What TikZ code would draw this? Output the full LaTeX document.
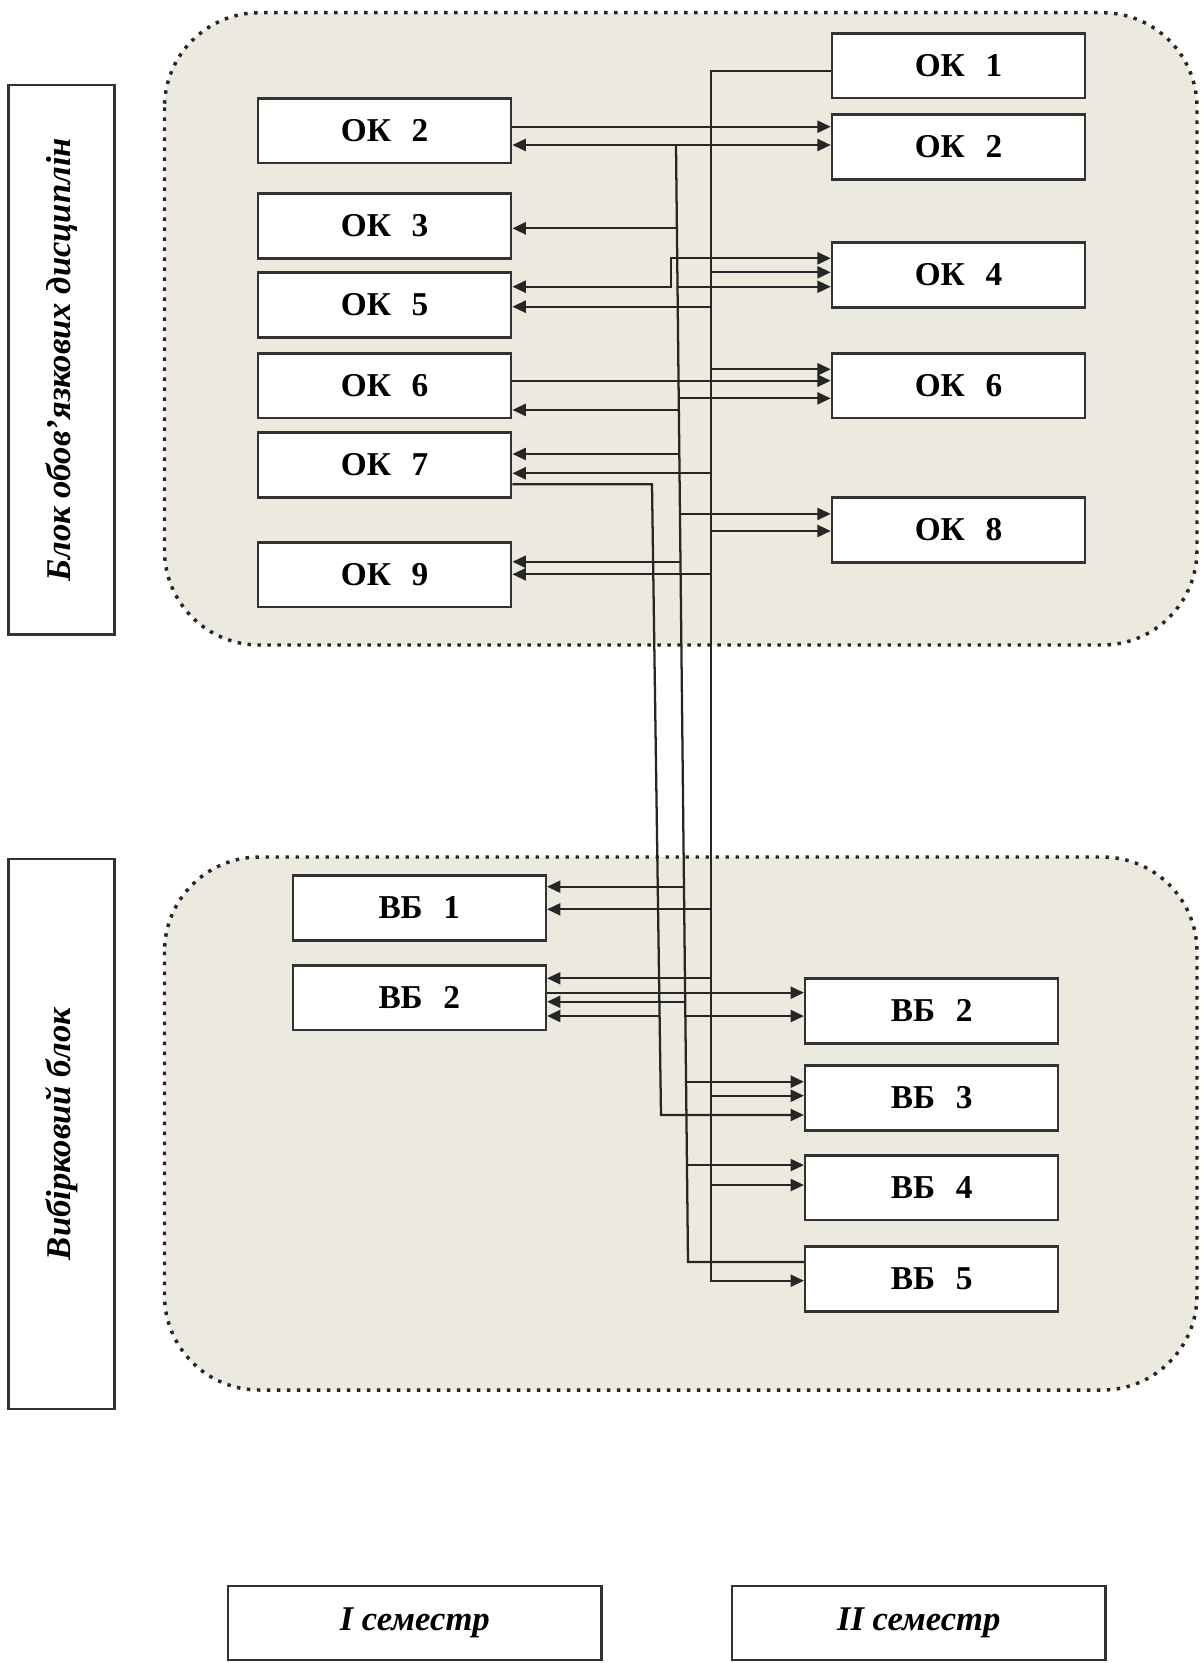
\documentclass[tikz,border=0pt]{standalone}
\usepackage{fontspec}
\setmainfont{Liberation Serif}
\usetikzlibrary{arrows.meta,calc}
\definecolor{blobfill}{HTML}{ECE9DF}
\newcommand\gap{\hspace{0.62em}}
\begin{document}
\begin{tikzpicture}[x=0.75pt,y=-0.75pt,
  box/.style={draw=black!80, line width=1.9pt, fill=white, minimum width=189.75pt,
    minimum height=48.4pt, inner sep=0pt, font=\bfseries\fontsize{25}{29}\selectfont},
  labbox/.style={draw=black!80, line width=1.9pt, fill=white, inner sep=0pt,
    font=\bfseries\itshape\fontsize{26}{30}\selectfont},
  blob/.style={draw=black!85, fill=blobfill, line width=2.6pt,
    dash pattern=on 2.6pt off 4.9pt, rounded corners=71pt},
  line/.style={draw=black!85, line width=1.7pt},
  arr/.style={line, -{Triangle[length=10pt,width=9pt]}},
  arrboth/.style={line, {Triangle[length=10pt,width=9pt]}-{Triangle[length=10pt,width=9pt]}}]
\useasboundingbox (0,0) rectangle (1200,1663);

% blocks
\draw[blob] (164.5,12.7) rectangle (1197,645);
\draw[blob] (164.5,857) rectangle (1197,1390);

% side labels
\node[labbox, rotate=90, minimum width=412pt, minimum height=79.5pt] (lab1) at (61.5,359.75) {Блок обов’язкових дисциплін};
\node[labbox, rotate=90, minimum width=412.5pt, minimum height=79.5pt] (lab2) at (61.5,1134) {Вибірковий блок};

% semesters
\node[labbox, minimum width=280.2pt, minimum height=55.5pt] (sem1) at (414.8,1623) {I семестр};
\node[labbox, minimum width=280.2pt, minimum height=55.5pt] (sem2) at (918.75,1623) {II семестр};

% first semester, compulsory
\node[box] (okL2) at (384.65,130.5) {ОК\gap 2};
\node[box] (okL3) at (384.65,226) {ОК\gap 3};
\node[box] (okL5) at (384.65,305) {ОК\gap 5};
\node[box] (okL6) at (384.65,385.5) {ОК\gap 6};
\node[box] (okL7) at (384.65,465) {ОК\gap 7};
\node[box] (okL9) at (384.65,574.5) {ОК\gap 9};
% second semester, compulsory
\node[box] (okR1) at (958.5,65.5) {ОК\gap 1};
\node[box] (okR2) at (958.5,147) {ОК\gap 2};
\node[box] (okR4) at (958.5,275) {ОК\gap 4};
\node[box] (okR6) at (958.5,385.5) {ОК\gap 6};
\node[box] (okR8) at (958.5,530) {ОК\gap 8};
% elective
\node[box] (vbL1) at (419.3,908) {ВБ\gap 1};
\node[box] (vbL2) at (419.3,997.5) {ВБ\gap 2};
\node[box] (vbR2) at (931.7,1011) {ВБ\gap 2};
\node[box] (vbR3) at (931.7,1098) {ВБ\gap 3};
\node[box] (vbR4) at (931.7,1187.5) {ВБ\gap 4};
\node[box] (vbR5) at (931.7,1279) {ВБ\gap 5};

% bus coordinates
\coordinate (Atop) at (711,70.7);
\coordinate (Abot) at (711,1280.7);
\coordinate (Btop) at (676,145);
\coordinate (Bbot) at (688,1262);
\coordinate (Ctop) at (652,484.3);
\coordinate (Cbot) at (661,1115);
\coordinate (s1) at (671,286.7);
\coordinate (s2) at (671,258.3);
\coordinate (b1) at ($(Btop)!0.0746!(Bbot)$);
\coordinate (b2) at ($(Btop)!0.1269!(Bbot)$);
\coordinate (b3) at ($(Btop)!0.2268!(Bbot)$);
\coordinate (b4) at ($(Btop)!0.2372!(Bbot)$);
\coordinate (b5) at ($(Btop)!0.2766!(Bbot)$);
\coordinate (b6) at ($(Btop)!0.3303!(Bbot)$);
\coordinate (b7) at ($(Btop)!0.3731!(Bbot)$);
\coordinate (b8) at ($(Btop)!0.6640!(Bbot)$);
\coordinate (b9) at ($(Btop)!0.7670!(Bbot)$);
\coordinate (b10) at ($(Btop)!0.7798!(Bbot)$);
\coordinate (b11) at ($(Btop)!0.8386!(Bbot)$);
\coordinate (b12) at ($(Btop)!0.9132!(Bbot)$);
\coordinate (c1) at ($(Ctop)!0.843!(Cbot)$);

% bus A
\draw[arr] (Atop -| okR1.west) -- (Atop) -- (Abot) -- (Abot -| vbR5.west);
\draw[arr] (Atop |- 0,272.3) -- (okR4.west |- 0,272.3);
\draw[arr] (Atop |- 0,306.7) -- (okL5.east |- 0,306.7);
\draw[arr] (Atop |- 0,369.3) -- (okR6.west |- 0,369.3);
\draw[arr] (Atop |- 0,473.3) -- (okL7.east |- 0,473.3);
\draw[arr] (Atop |- 0,531) -- (okR8.west |- 0,531);
\draw[arr] (Atop |- 0,574.3) -- (okL9.east |- 0,574.3);
\draw[arr] (Atop |- 0,909.3) -- (vbL1.east |- 0,909.3);
\draw[arr] (Atop |- 0,978.3) -- (vbL2.east |- 0,978.3);
\draw[arr] (Atop |- 0,1095.7) -- (vbR3.west |- 0,1095.7);
\draw[arr] (Atop |- 0,1185) -- (vbR4.west |- 0,1185);

% bus B
\draw[line] (Btop) -- (Bbot) -- (Bbot -| vbR5.west);
\draw[arrboth] (Btop -| okL2.east) -- (Btop -| okR2.west);
\draw[arr] (b1) -- (b1 -| okL3.east);
\draw[arr] (b2) -- (b2 -| okR4.west);
\draw[arr] (b3) -- (b3 -| okR6.west);
\draw[arr] (b4) -- (b4 -| okL6.east);
\draw[arr] (b5) -- (b5 -| okL7.east);
\draw[arr] (b6) -- (b6 -| okR8.west);
\draw[arr] (b7) -- (b7 -| okL9.east);
\draw[arr] (b8) -- (b8 -| vbL1.east);
\draw[arr] (b9) -- (b9 -| vbL2.east);
\draw[arr] (b10) -- (b10 -| vbR2.west);
\draw[arr] (b11) -- (b11 -| vbR3.west);
\draw[arr] (b12) -- (b12 -| vbR4.west);

% bus C
\draw[arr] (Ctop -| okL7.east) -- (Ctop) -- (Cbot) -- (Cbot -| vbR3.west);
\draw[arr] (c1) -- (c1 -| vbL2.east);

% direct links
\draw[arr] (okL2.east |- 0,126.7) -- (okR2.west |- 0,126.7);
\draw[arrboth] (s1 -| okL5.east) -- (s1) -- (s2) -- (s2 -| okR4.west);
\draw[arr] (okL6.east |- 0,380.7) -- (okR6.west |- 0,380.7);
\draw[arr] (vbL2.east |- 0,992.7) -- (vbR2.west |- 0,992.7);
\end{tikzpicture}
\end{document}
